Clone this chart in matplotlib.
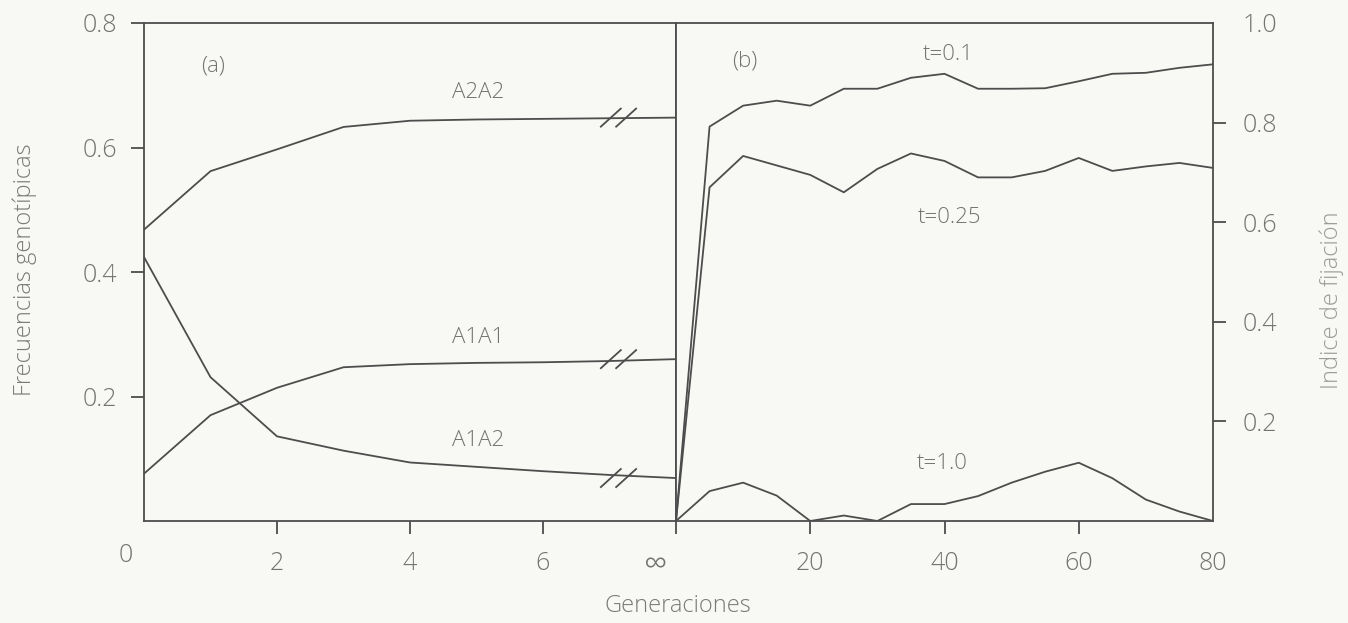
import matplotlib
matplotlib.use("Agg")
import matplotlib.pyplot as plt
import matplotlib.transforms as mtrans

plt.rcParams['font.family'] = ['Open Sans', 'DejaVu Sans']
plt.rcParams['font.weight'] = 'light'

# ---- data: panel (a) ----
generations = [0, 1, 2, 3, 4, 5, 6, 7, 8]   # 8 stands for "infinity"
gen_ticks = [2, 4, 6, 8]
gen_ticklabels = ['2', '4', '6', '∞']
a2a2 = [0.468, 0.562, 0.597, 0.633, 0.643, 0.645, 0.646, 0.647, 0.648]
a1a1 = [0.076, 0.170, 0.214, 0.247, 0.252, 0.254, 0.255, 0.257, 0.260]
a1a2 = [0.424, 0.231, 0.136, 0.113, 0.094, 0.087, 0.080, 0.074, 0.069]
left_yticks = [0.2, 0.4, 0.6, 0.8]

# ---- data: panel (b) ----
gens_b = [0, 5, 10, 15, 20, 25, 30, 35, 40, 45, 50, 55, 60, 65, 70, 75, 80]
t01 = [0, 0.792, 0.834, 0.844, 0.834, 0.868, 0.868, 0.890, 0.898, 0.868,
       0.868, 0.869, 0.883, 0.898, 0.900, 0.910, 0.917]
t025 = [0, 0.670, 0.733, 0.714, 0.695, 0.660, 0.707, 0.738, 0.723, 0.690,
        0.690, 0.703, 0.729, 0.703, 0.712, 0.719, 0.709]
t10 = [0, 0.060, 0.077, 0.051, 0.0, 0.011, 0.0, 0.034, 0.034, 0.050,
       0.077, 0.099, 0.117, 0.086, 0.043, 0.019, 0.0]
right_xticks = [20, 40, 60, 80]
right_yticks = [0.2, 0.4, 0.6, 0.8, 1.0]

LINE = '#4d4d4d'
TXT = '#737373'
BG = '#f8f8f4'
LW = 1.3
FS_TICK = 18
FS_ANN = 16

fig = plt.figure(figsize=(13.48, 6.23), dpi=100, facecolor=BG)
bottom = 1 - 521 / 623
height = (521 - 23) / 623
ax1 = fig.add_axes([144 / 1348, bottom, (676 - 144) / 1348, height])
ax2 = fig.add_axes([676 / 1348, bottom, (1213 - 676) / 1348, height])

for ax in (ax1, ax2):
    ax.set_facecolor(BG)
    for s in ax.spines.values():
        s.set_color(LINE)
        s.set_linewidth(LW)
    ax.tick_params(colors=LINE, labelcolor=TXT, labelsize=FS_TICK,
                   direction='out', length=9.5, width=LW)
    ax.tick_params(axis='x', pad=12)

# ---- panel (a) ----
for ser in (a2a2, a1a1, a1a2):
    ax1.plot(generations, ser, color=LINE, lw=LW)
    vbreak = ser[-1]
    for c in (7.02, 7.25):
        ax1.plot([c - 0.15, c + 0.15], [vbreak - 0.0145, vbreak + 0.0145],
                 color=LINE, lw=LW)
ax1.set_xlim(0, 8)
ax1.set_ylim(0, 0.8)
ax1.set_xticks(gen_ticks)
ax1.set_xticklabels(gen_ticklabels)
ax1.set_yticks(left_yticks)
ax1.set_yticklabels([f'{v:.1f}' for v in left_yticks])
ax1.tick_params(axis='y', pad=10)
lab = ax1.get_xticklabels()[-1]
lab.set_fontsize(24)
lab.set_transform(lab.get_transform() + mtrans.ScaledTranslation(-20 / 100, 0.02, fig.dpi_scale_trans))
ax1.annotate('0', xy=(0, 0), xycoords='data', xytext=(-13, -25), textcoords='offset points',
             ha='center', va='center', fontsize=FS_TICK, color=TXT)

ax1.text(1.04, 0.731, '(a)', ha='center', va='center', fontsize=FS_ANN, color=TXT)
ax1.text(5.02, 0.688, 'A2A2', ha='center', va='center', fontsize=FS_ANN, color=TXT)
ax1.text(5.02, 0.295, 'A1A1', ha='center', va='center', fontsize=FS_ANN, color=TXT)
ax1.text(5.02, 0.130, 'A1A2', ha='center', va='center', fontsize=FS_ANN, color=TXT)

# ---- panel (b) ----
for ser in (t01, t025, t10):
    ax2.plot(gens_b, ser, color=LINE, lw=LW)
ax2.set_xlim(0, 80)
ax2.set_ylim(0, 1.0)
ax2.set_xticks(right_xticks)
ax2.set_xticklabels([str(v) for v in right_xticks])
ax2.yaxis.tick_right()
ax2.set_yticks(right_yticks)
ax2.set_yticklabels([f'{v:.1f}' for v in right_yticks])
ax2.tick_params(axis='y', pad=12)
ax2.yaxis.get_major_ticks()[-1].tick2line.set_visible(False)
ax2.xaxis.get_major_ticks()[-1].tick1line.set_visible(False)

ax2.text(10.3, 0.924, '(b)', ha='center', va='center', fontsize=FS_ANN, color=TXT)
ax2.text(40.5, 0.937, 't=0.1', ha='center', va='center', fontsize=FS_ANN, color=TXT)
ax2.text(40.8, 0.610, 't=0.25', ha='center', va='center', fontsize=FS_ANN, color=TXT)
ax2.text(39.6, 0.116, 't=1.0', ha='center', va='center', fontsize=FS_ANN, color=TXT)

# ---- axis titles ----
fig.text(25 / 1348, 1 - 270 / 623, 'Frecuencias genotípicas', rotation=90,
         ha='center', va='center', fontsize=FS_TICK - 1, color='#7a7a7a')
fig.text(1332 / 1348, 1 - 300 / 623, 'Indice de fijación', rotation=90,
         ha='center', va='center', fontsize=FS_TICK - 1, color='#9a9a9a')
fig.text(678 / 1348, 1 - 606 / 623, 'Generaciones', ha='center', va='center',
         fontsize=FS_TICK - 1, color='#7a7a7a')

fig.savefig('out.png', dpi=100, facecolor=BG)
